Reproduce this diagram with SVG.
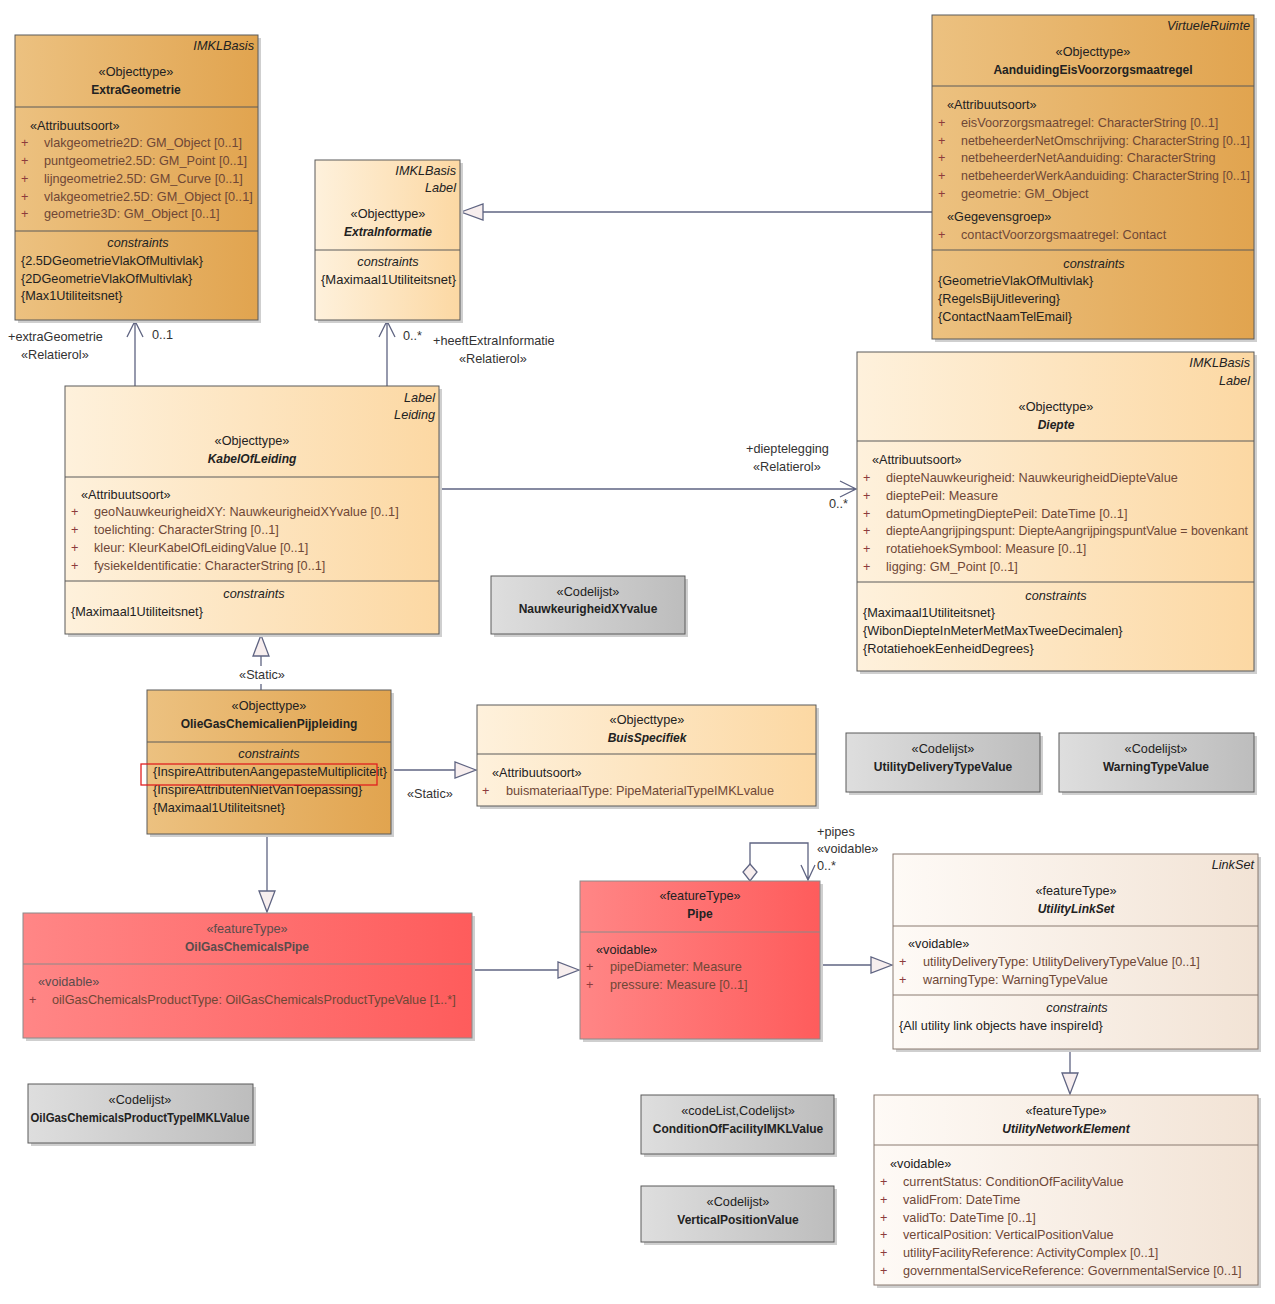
<svg xmlns="http://www.w3.org/2000/svg" width="1275" height="1304" viewBox="0 0 1275 1304">
<style>
text{font-family:"Liberation Sans",Arial,sans-serif;font-size:12.7px;fill:#222}
.c{text-anchor:middle}
.r{text-anchor:end;font-style:italic}
.b{font-weight:bold;font-size:12px}
.bi{font-weight:bold;font-style:italic;font-size:12px}
.i{font-style:italic}
.a{fill:#6f4736}
.p{fill:#8c3c3c}
.fh{fill:#5a4c4c}
.lbl{fill:#333}
.box{stroke:#5a5a5a;stroke-width:1}
.sep{stroke:#5a5a5a;stroke-width:1}
.sh{fill:#cfcfcf}
.con{stroke:#5f6482;stroke-width:1.3;fill:none}
.tri{stroke:#5f6482;stroke-width:1.3;fill:#f7eeee}
</style>
<defs>
<linearGradient id="gD" x1="0" x2="1" y1="0" y2="0"><stop offset="0" stop-color="#ecc180"/><stop offset="1" stop-color="#e1a44f"/></linearGradient>
<linearGradient id="gL" x1="0" x2="1" y1="0" y2="0"><stop offset="0" stop-color="#fef1dc"/><stop offset="1" stop-color="#fcd8a3"/></linearGradient>
<linearGradient id="gG" x1="0" x2="1" y1="0" y2="0"><stop offset="0" stop-color="#dedede"/><stop offset="1" stop-color="#bdbdbd"/></linearGradient>
<linearGradient id="gR" x1="0" x2="1" y1="0" y2="0"><stop offset="0" stop-color="#ff8686"/><stop offset="1" stop-color="#fe5c5c"/></linearGradient>
<linearGradient id="gB" x1="0" x2="1" y1="0" y2="0"><stop offset="0" stop-color="#fefaf6"/><stop offset="1" stop-color="#f2e3d5"/></linearGradient>
</defs>
<rect width="1275" height="1304" fill="#ffffff"/>

<g id="connectors">
<path class="con" d="M135,386 V321 M127,337 L135,321 L143,337"/>
<text x="8" y="341" class="lbl">+extraGeometrie</text>
<text x="21" y="359" class="lbl">«Relatierol»</text>
<text x="152" y="339" class="lbl">0..1</text>
<path class="con" d="M387,386 V321 M379,337 L387,321 L395,337"/>
<text x="403" y="340" class="lbl">0..*</text>
<text x="433" y="345" class="lbl">+heeftExtraInformatie</text>
<text x="459" y="363" class="lbl">«Relatierol»</text>
<path class="con" d="M932,212 H483"/>
<path class="tri" d="M461,212 L483,204 L483,220 Z"/>
<path class="con" d="M440,489 H856 M840,481 L856,489 L840,497"/>
<text x="746" y="453" class="lbl">+dieptelegging</text>
<text x="753" y="471" class="lbl">«Relatierol»</text>
<text x="829" y="508" class="lbl">0..*</text>
<path class="con" d="M261,690 V684 M261,666 V656"/>
<path class="tri" d="M261,635 L253,656 L269,656 Z"/>
<text x="262" y="679" class="c lbl">«Static»</text>
<path class="con" d="M391,770 H455"/>
<path class="tri" d="M476,770 L455,762 L455,778 Z"/>
<text x="407" y="798" class="lbl">«Static»</text>
<path class="con" d="M267,834 V891"/>
<path class="tri" d="M267,912 L259,891 L275,891 Z"/>
<path class="con" d="M472,970 H558"/>
<path class="tri" d="M579,970 L558,962 L558,978 Z"/>
<path class="con" d="M820,965 H871"/>
<path class="tri" d="M892,965 L871,957 L871,973 Z"/>
<path class="con" d="M1070,1049 V1073"/>
<path class="tri" d="M1070,1094 L1062,1073 L1078,1073 Z"/>
<path class="con" d="M750,864 V843 H808 V880 M801,865 L808,880 L815,865"/>
<path class="tri" d="M750,864 L757,872 L750,881 L743,872 Z"/>
<text x="817" y="836" class="lbl">+pipes</text>
<text x="817" y="853" class="lbl">«voidable»</text>
<text x="817" y="870" class="lbl">0..*</text>
</g>

<g id="ExtraGeometrie">
<rect x="18" y="38" width="243" height="285" class="sh"/>
<rect x="15" y="35" width="243" height="285" fill="url(#gD)" class="box"/>
<line x1="15" y1="107" x2="258" y2="107" class="sep"/>
<line x1="15" y1="231" x2="258" y2="231" class="sep"/>
<text x="254" y="50" class="r">IMKLBasis</text>
<text x="136" y="76" class="c">«Objecttype»</text>
<text x="136" y="94" class="c b">ExtraGeometrie</text>
<text x="30" y="130">«Attribuutsoort»</text>
<text x="21" y="147" class="p">+</text><text x="44" y="147" class="a">vlakgeometrie2D: GM_Object [0..1]</text>
<text x="21" y="165" class="p">+</text><text x="44" y="165" class="a">puntgeometrie2.5D: GM_Point [0..1]</text>
<text x="21" y="183" class="p">+</text><text x="44" y="183" class="a">lijngeometrie2.5D: GM_Curve [0..1]</text>
<text x="21" y="201" class="p">+</text><text x="44" y="201" class="a">vlakgeometrie2.5D: GM_Object [0..1]</text>
<text x="21" y="218" class="p">+</text><text x="44" y="218" class="a">geometrie3D: GM_Object [0..1]</text>
<text x="138" y="247" class="c i">constraints</text>
<text x="21" y="265">{2.5DGeometrieVlakOfMultivlak}</text>
<text x="21" y="283">{2DGeometrieVlakOfMultivlak}</text>
<text x="21" y="300">{Max1Utiliteitsnet}</text>
</g>

<g id="ExtraInformatie">
<rect x="318" y="163" width="145" height="160" class="sh"/>
<rect x="315" y="160" width="145" height="160" fill="url(#gL)" class="box"/>
<line x1="315" y1="250" x2="460" y2="250" class="sep"/>
<text x="456" y="175" class="r">IMKLBasis</text>
<text x="456" y="192" class="r">Label</text>
<text x="388" y="218" class="c">«Objecttype»</text>
<text x="388" y="236" class="c bi">ExtraInformatie</text>
<text x="388" y="266" class="c i">constraints</text>
<text x="321" y="284" textLength="135" lengthAdjust="spacingAndGlyphs">{Maximaal1Utiliteitsnet}</text>
</g>

<g id="AanduidingEisVoorzorgsmaatregel">
<rect x="935" y="18" width="322" height="324" class="sh"/>
<rect x="932" y="15" width="322" height="324" fill="url(#gD)" class="box"/>
<line x1="932" y1="86" x2="1254" y2="86" class="sep"/>
<line x1="932" y1="250" x2="1254" y2="250" class="sep"/>
<text x="1250" y="30" class="r">VirtueleRuimte</text>
<text x="1093" y="56" class="c">«Objecttype»</text>
<text x="1093" y="74" class="c b">AanduidingEisVoorzorgsmaatregel</text>
<text x="947" y="109">«Attribuutsoort»</text>
<text x="938" y="127" class="p">+</text><text x="961" y="127" class="a">eisVoorzorgsmaatregel: CharacterString [0..1]</text>
<text x="938" y="145" class="p">+</text><text x="961" y="145" class="a" textLength="289" lengthAdjust="spacingAndGlyphs">netbeheerderNetOmschrijving: CharacterString [0..1]</text>
<text x="938" y="162" class="p">+</text><text x="961" y="162" class="a">netbeheerderNetAanduiding: CharacterString</text>
<text x="938" y="180" class="p">+</text><text x="961" y="180" class="a" textLength="289" lengthAdjust="spacingAndGlyphs">netbeheerderWerkAanduiding: CharacterString [0..1]</text>
<text x="938" y="198" class="p">+</text><text x="961" y="198" class="a">geometrie: GM_Object</text>
<text x="947" y="221">«Gegevensgroep»</text>
<text x="938" y="239" class="p">+</text><text x="961" y="239" class="a">contactVoorzorgsmaatregel: Contact</text>
<text x="1094" y="268" class="c i">constraints</text>
<text x="938" y="285">{GeometrieVlakOfMultivlak}</text>
<text x="938" y="303">{RegelsBijUitlevering}</text>
<text x="938" y="321">{ContactNaamTelEmail}</text>
</g>

<g id="KabelOfLeiding">
<rect x="68" y="389" width="374" height="248" class="sh"/>
<rect x="65" y="386" width="374" height="248" fill="url(#gL)" class="box"/>
<line x1="65" y1="477" x2="439" y2="477" class="sep"/>
<line x1="65" y1="581" x2="439" y2="581" class="sep"/>
<text x="435" y="402" class="r">Label</text>
<text x="435" y="419" class="r">Leiding</text>
<text x="252" y="445" class="c">«Objecttype»</text>
<text x="252" y="463" class="c bi">KabelOfLeiding</text>
<text x="81" y="499">«Attribuutsoort»</text>
<text x="71" y="516" class="p">+</text><text x="94" y="516" class="a">geoNauwkeurigheidXY: NauwkeurigheidXYvalue [0..1]</text>
<text x="71" y="534" class="p">+</text><text x="94" y="534" class="a">toelichting: CharacterString [0..1]</text>
<text x="71" y="552" class="p">+</text><text x="94" y="552" class="a">kleur: KleurKabelOfLeidingValue [0..1]</text>
<text x="71" y="570" class="p">+</text><text x="94" y="570" class="a">fysiekeIdentificatie: CharacterString [0..1]</text>
<text x="254" y="598" class="c i">constraints</text>
<text x="71" y="616">{Maximaal1Utiliteitsnet}</text>
</g>

<g id="Diepte">
<rect x="860" y="355" width="397" height="319" class="sh"/>
<rect x="857" y="352" width="397" height="319" fill="url(#gL)" class="box"/>
<line x1="857" y1="441" x2="1254" y2="441" class="sep"/>
<line x1="857" y1="582" x2="1254" y2="582" class="sep"/>
<text x="1250" y="367" class="r">IMKLBasis</text>
<text x="1250" y="385" class="r">Label</text>
<text x="1056" y="411" class="c">«Objecttype»</text>
<text x="1056" y="429" class="c bi">Diepte</text>
<text x="872" y="464">«Attribuutsoort»</text>
<text x="863" y="482" class="p">+</text><text x="886" y="482" class="a">diepteNauwkeurigheid: NauwkeurigheidDiepteValue</text>
<text x="863" y="500" class="p">+</text><text x="886" y="500" class="a">dieptePeil: Measure</text>
<text x="863" y="518" class="p">+</text><text x="886" y="518" class="a">datumOpmetingDieptePeil: DateTime [0..1]</text>
<text x="863" y="535" class="p">+</text><text x="886" y="535" class="a" textLength="362" lengthAdjust="spacingAndGlyphs">diepteAangrijpingspunt: DiepteAangrijpingspuntValue = bovenkant</text>
<text x="863" y="553" class="p">+</text><text x="886" y="553" class="a">rotatiehoekSymbool: Measure [0..1]</text>
<text x="863" y="571" class="p">+</text><text x="886" y="571" class="a">ligging: GM_Point [0..1]</text>
<text x="1056" y="600" class="c i">constraints</text>
<text x="863" y="617">{Maximaal1Utiliteitsnet}</text>
<text x="863" y="635">{WibonDiepteInMeterMetMaxTweeDecimalen}</text>
<text x="863" y="653">{RotatiehoekEenheidDegrees}</text>
</g>

<g id="NauwkeurigheidXYvalue">
<rect x="494" y="579" width="194" height="58" class="sh"/>
<rect x="491" y="576" width="194" height="58" fill="url(#gG)" class="box"/>
<text x="588" y="596" class="c">«Codelijst»</text>
<text x="588" y="613" class="c b">NauwkeurigheidXYvalue</text>
</g>

<g id="OlieGasChemicalienPijpleiding">
<rect x="150" y="693" width="244" height="144" class="sh"/>
<rect x="147" y="690" width="244" height="144" fill="url(#gD)" class="box"/>
<line x1="147" y1="742" x2="391" y2="742" class="sep"/>
<text x="269" y="710" class="c">«Objecttype»</text>
<text x="269" y="728" class="c b">OlieGasChemicalienPijpleiding</text>
<text x="269" y="758" class="c i">constraints</text>
<text x="153" y="776" textLength="234" lengthAdjust="spacingAndGlyphs">{InspireAttributenAangepasteMultipliciteit}</text>
<text x="153" y="794">{InspireAttributenNietVanToepassing}</text>
<text x="153" y="812">{Maximaal1Utiliteitsnet}</text>
<rect x="141" y="764" width="236" height="21" fill="none" stroke="#e02020" stroke-width="1.3"/>
</g>

<g id="BuisSpecifiek">
<rect x="480" y="708" width="339" height="101" class="sh"/>
<rect x="477" y="705" width="339" height="101" fill="url(#gL)" class="box"/>
<line x1="477" y1="754" x2="816" y2="754" class="sep"/>
<text x="647" y="724" class="c">«Objecttype»</text>
<text x="647" y="742" class="c bi">BuisSpecifiek</text>
<text x="492" y="777">«Attribuutsoort»</text>
<text x="482" y="795" class="p">+</text><text x="506" y="795" class="a">buismateriaalType: PipeMaterialTypeIMKLvalue</text>
</g>

<g id="UtilityDeliveryTypeValue">
<rect x="849" y="736" width="194" height="59" class="sh"/>
<rect x="846" y="733" width="194" height="59" fill="url(#gG)" class="box"/>
<text x="943" y="753" class="c">«Codelijst»</text>
<text x="943" y="771" class="c b">UtilityDeliveryTypeValue</text>
</g>

<g id="WarningTypeValue">
<rect x="1062" y="736" width="195" height="59" class="sh"/>
<rect x="1059" y="733" width="195" height="59" fill="url(#gG)" class="box"/>
<text x="1156" y="753" class="c">«Codelijst»</text>
<text x="1156" y="771" class="c b">WarningTypeValue</text>
</g>

<g id="OilGasChemicalsPipe">
<rect x="26" y="916" width="449" height="125" class="sh"/>
<rect x="23" y="913" width="449" height="125" fill="url(#gR)" stroke="#8a8a8a"/>
<line x1="23" y1="964" x2="472" y2="964" stroke="#8a8a8a"/>
<text x="247" y="933" class="c fh">«featureType»</text>
<text x="247" y="951" class="c b fh">OilGasChemicalsPipe</text>
<text x="38" y="986" class="fh">«voidable»</text>
<text x="29" y="1004" class="p">+</text><text x="52" y="1004" class="a">oilGasChemicalsProductType: OilGasChemicalsProductTypeValue [1..*]</text>
</g>

<g id="Pipe">
<rect x="583" y="884" width="240" height="158" class="sh"/>
<rect x="580" y="881" width="240" height="158" fill="url(#gR)" stroke="#8a8a8a"/>
<line x1="580" y1="932" x2="820" y2="932" stroke="#8a8a8a"/>
<text x="700" y="900" class="c">«featureType»</text>
<text x="700" y="918" class="c b">Pipe</text>
<text x="596" y="954">«voidable»</text>
<text x="586" y="971" class="p">+</text><text x="610" y="971" class="a">pipeDiameter: Measure</text>
<text x="586" y="989" class="p">+</text><text x="610" y="989" class="a">pressure: Measure [0..1]</text>
</g>

<g id="UtilityLinkSet">
<rect x="896" y="857" width="365" height="195" class="sh"/>
<rect x="893" y="854" width="365" height="195" fill="url(#gB)" stroke="#8a7a70"/>
<line x1="893" y1="926" x2="1258" y2="926" stroke="#8a7a70"/>
<line x1="893" y1="995" x2="1258" y2="995" stroke="#8a7a70"/>
<text x="1254" y="869" class="r">LinkSet</text>
<text x="1076" y="895" class="c">«featureType»</text>
<text x="1076" y="913" class="c bi">UtilityLinkSet</text>
<text x="908" y="948">«voidable»</text>
<text x="899" y="966" class="p">+</text><text x="923" y="966" class="a">utilityDeliveryType: UtilityDeliveryTypeValue [0..1]</text>
<text x="899" y="984" class="p">+</text><text x="923" y="984" class="a">warningType: WarningTypeValue</text>
<text x="1077" y="1012" class="c i">constraints</text>
<text x="899" y="1030">{All utility link objects have inspireId}</text>
</g>

<g id="UtilityNetworkElement">
<rect x="877" y="1098" width="384" height="190" class="sh"/>
<rect x="874" y="1095" width="384" height="190" fill="url(#gB)" stroke="#8a7a70"/>
<line x1="874" y1="1145" x2="1258" y2="1145" stroke="#8a7a70"/>
<text x="1066" y="1115" class="c">«featureType»</text>
<text x="1066" y="1133" class="c bi">UtilityNetworkElement</text>
<text x="890" y="1168">«voidable»</text>
<text x="880" y="1186" class="p">+</text><text x="903" y="1186" class="a">currentStatus: ConditionOfFacilityValue</text>
<text x="880" y="1204" class="p">+</text><text x="903" y="1204" class="a">validFrom: DateTime</text>
<text x="880" y="1222" class="p">+</text><text x="903" y="1222" class="a">validTo: DateTime [0..1]</text>
<text x="880" y="1239" class="p">+</text><text x="903" y="1239" class="a">verticalPosition: VerticalPositionValue</text>
<text x="880" y="1257" class="p">+</text><text x="903" y="1257" class="a">utilityFacilityReference: ActivityComplex [0..1]</text>
<text x="880" y="1275" class="p">+</text><text x="903" y="1275" class="a">governmentalServiceReference: GovernmentalService [0..1]</text>
</g>

<g id="OilGasChemicalsProductTypeIMKLValue">
<rect x="31" y="1087" width="225" height="59" class="sh"/>
<rect x="28" y="1084" width="225" height="59" fill="url(#gG)" class="box"/>
<text x="140" y="1104" class="c">«Codelijst»</text>
<text x="140" y="1122" class="c b" textLength="219" lengthAdjust="spacingAndGlyphs">OilGasChemicalsProductTypeIMKLValue</text>
</g>

<g id="ConditionOfFacilityIMKLValue">
<rect x="644" y="1098" width="193" height="59" class="sh"/>
<rect x="641" y="1095" width="193" height="59" fill="url(#gG)" class="box"/>
<text x="738" y="1115" class="c">«codeList,Codelijst»</text>
<text x="738" y="1133" class="c b">ConditionOfFacilityIMKLValue</text>
</g>

<g id="VerticalPositionValue">
<rect x="644" y="1189" width="193" height="56" class="sh"/>
<rect x="641" y="1186" width="193" height="56" fill="url(#gG)" class="box"/>
<text x="738" y="1206" class="c">«Codelijst»</text>
<text x="738" y="1224" class="c b">VerticalPositionValue</text>
</g>
</svg>
